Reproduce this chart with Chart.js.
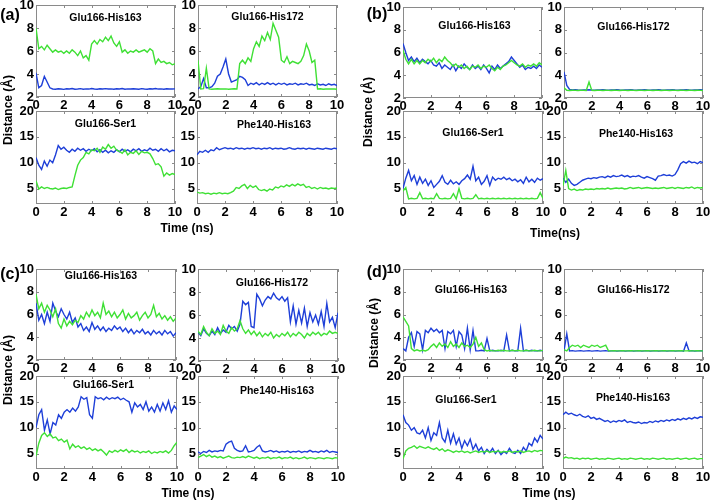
<!DOCTYPE html>
<html>
<head>
<meta charset="utf-8">
<script src="https://cdn.jsdelivr.net/npm/chart.js@4.4.1/dist/chart.umd.min.js"></script>
<style>
    body { margin: 0; background: #fff; }
    #fig { position: relative; width: 711px; height: 502px; overflow: hidden;
           font-family: 'Liberation Sans', Arial, sans-serif; font-weight: bold; color: #000; }
    #fig canvas { position: absolute; }
    .lbl { position: absolute; white-space: nowrap; transform: translate(-50%, -50%); }
    .ylab { transform: translate(-50%, -50%) rotate(-90deg); }
</style>
</head>
<body>
<div id="fig"></div>
<script>
// time axis (ns), sampled every 0.2 ns
const time = [0, 0.2, 0.4, 0.6, 0.8, 1, 1.2, 1.4, 1.6, 1.8, 2, 2.2, 2.4, 2.6, 2.8, 3, 3.2, 3.4, 3.6, 3.8,
    4, 4.2, 4.4, 4.6, 4.8, 5, 5.2, 5.4, 5.6, 5.8, 6, 6.2, 6.4, 6.6, 6.8, 7, 7.2, 7.4, 7.6, 7.8,
    8, 8.2, 8.4, 8.6, 8.8, 9, 9.2, 9.4, 9.6, 9.8, 10];
const xTicks = [0, 2, 4, 6, 8, 10];
const yTicksShort = [2, 4, 6, 8, 10];
const yTicksLong = [5, 10, 15, 20];

// panel (a)
const aHis163Green = [8.0, 6.2, 6.4, 6.1, 6.5, 6.2, 5.9, 6.1, 5.9, 6.0,
    5.8, 6.0, 5.8, 6.1, 5.9, 5.6, 6.0, 5.4, 5.6, 5.2,
    6.6, 6.9, 6.6, 7.0, 6.8, 7.2, 6.9, 7.3, 6.7, 6.4,
    6.8, 5.9, 6.1, 5.8, 6.0, 5.9, 6.1, 5.9, 6.0, 6.1,
    5.9, 6.2, 6.0, 4.9, 5.3, 5.0, 5.1, 4.9, 5.0, 4.8, 4.9];
const aHis163Blue = [4.1, 2.8, 3.0, 3.8, 3.3, 2.8, 2.7, 2.68, 2.72, 2.7,
    2.66, 2.72, 2.7, 2.74, 2.68, 2.7, 2.73, 2.67, 2.71, 2.69,
    2.74, 2.7, 2.68, 2.72, 2.7, 2.73, 2.69, 2.71, 2.67, 2.72,
    2.7, 2.74, 2.68, 2.71, 2.69, 2.72, 2.7, 2.67, 2.73, 2.7,
    2.68, 2.72, 2.7, 2.74, 2.69, 2.71, 2.68, 2.72, 2.7, 2.69, 2.71];
const aHis172Green = [5.2, 2.7, 2.72, 4.5, 2.7, 2.68, 2.7, 2.72, 2.69, 2.7,
    2.71, 2.68, 2.7, 2.72, 2.69, 4.9, 5.2, 4.9, 5.4, 5.1,
    6.2, 6.8, 6.4, 7.3, 6.9, 7.6, 7.0, 8.4, 7.8, 7.2,
    5.2, 5.0, 5.5, 4.9, 5.1, 5.0, 4.9, 5.1, 5.6, 6.6,
    6.0, 5.0, 5.2, 2.7, 2.72, 2.68, 2.7, 2.71, 2.69, 2.7, 2.68];
const aHis172Blue = [2.7, 2.9, 3.6, 2.8, 2.8, 2.9, 3.2, 3.8, 4.0, 4.6,
    5.3, 4.0, 3.3, 3.4, 3.5, 3.8, 3.7, 3.5, 3.0, 3.2,
    3.1, 3.25, 3.05, 3.2, 3.1, 3.25, 3.1, 3.2, 3.05, 3.2,
    3.1, 3.2, 3.05, 3.15, 3.1, 3.2, 3.05, 3.15, 3.1, 3.2,
    3.05, 3.1, 3.0, 3.15, 3.05, 3.1, 3.0, 3.15, 3.05, 3.1, 3.0];
const aSer1Green = [6.5, 4.9, 5.3, 5.0, 5.2, 5.0, 4.9, 5.1, 4.8, 5.0,
    5.1, 5.0, 5.2, 5.3, 7.5, 9.5, 10.5, 11.0, 12.0, 11.7,
    12.5, 12.3, 12.8, 12.0, 13.0, 12.6, 13.5, 12.8, 13.2, 12.4,
    12.2, 11.8, 12.5, 11.5, 12.0, 11.8, 12.3, 11.6, 12.2, 11.9,
    12.0, 11.7, 10.8, 9.6, 9.8, 9.2, 7.4, 8.0, 7.6, 7.9, 7.7];
const aSer1Blue = [11.0, 9.5, 8.7, 10.3, 9.3, 10.5, 10.0, 11.5, 13.3, 12.6,
    13.0, 12.4, 12.0, 12.6, 12.2, 12.8, 12.4, 12.7, 12.2, 12.6,
    12.3, 12.7, 12.1, 12.5, 12.0, 12.4, 11.9, 12.3, 12.0, 12.5,
    12.1, 12.6, 12.2, 12.5, 12.1, 12.6, 12.3, 12.7, 12.2, 12.5,
    12.3, 12.8, 12.4, 12.6, 12.2, 12.7, 12.3, 12.6, 12.1, 12.4, 12.3];
const aPhe140Green = [4.3, 4.1, 4.2, 4.0, 4.1, 3.9, 4.1, 4.0, 4.2, 4.0,
    4.1, 4.0, 4.2, 4.5, 5.2, 5.0, 5.5, 5.8, 5.0, 5.6,
    5.2, 5.5, 4.8, 4.6, 4.8, 4.5, 4.9, 4.7, 5.3, 5.1,
    5.5, 5.3, 5.7, 5.4, 5.8, 5.5, 5.9, 5.6, 5.8, 5.2,
    5.4, 5.0, 5.2, 4.9, 5.2, 5.0, 5.1, 4.9, 5.1, 5.0, 5.1];
const aPhe140Blue = [11.5, 12.2, 12.0, 12.4, 12.0, 12.5, 12.3, 12.9, 12.5, 12.7,
    12.9, 12.7, 12.8, 12.6, 12.9, 12.7, 12.8, 12.6, 12.8, 12.7,
    12.9, 12.7, 12.8, 12.6, 12.8, 12.7, 12.9, 12.6, 12.8, 12.7,
    12.8, 12.6, 12.7, 12.9, 12.7, 12.6, 12.8, 12.7, 12.8, 12.6,
    12.8, 12.7, 12.6, 12.8, 12.7, 12.6, 12.8, 12.7, 12.6, 12.8, 12.7];

// panel (b)
const bHis163Green = [6.2, 5.4, 5.0, 5.4, 5.0, 5.3, 5.0, 5.3, 5.1, 5.4,
    5.2, 5.5, 5.1, 5.4, 5.2, 5.6, 5.3, 5.1, 4.8, 5.0,
    4.7, 4.9, 4.6, 4.8, 4.5, 4.8, 4.7, 4.9, 4.6, 4.8,
    4.7, 4.9, 4.6, 4.4, 4.7, 4.5, 4.8, 4.9, 5.1, 5.3,
    5.1, 4.9, 4.8, 5.0, 4.7, 4.9, 4.8, 5.0, 4.8, 5.1, 4.9];
const bHis163Blue = [6.8, 6.0, 5.3, 5.6, 5.2, 5.5, 5.1, 5.4, 5.2, 5.0,
    5.3, 4.9, 4.8, 5.1, 4.6, 4.9, 4.7, 4.5, 4.9, 4.4,
    4.8, 4.6, 5.0, 4.7, 4.5, 4.9, 4.6, 4.8, 4.5, 4.9,
    4.6, 4.2, 4.8, 4.5, 4.9, 4.6, 4.8, 5.0, 5.2, 5.6,
    5.3, 5.0, 4.7, 4.9, 4.5, 4.7, 4.6, 4.8, 4.6, 4.9, 4.7];
const bHis172Green = [2.9, 2.68, 2.66, 2.68, 2.67, 2.66, 2.68, 2.67, 2.66, 3.4,
    2.67, 2.66, 2.68, 2.67, 2.66, 2.68, 2.67, 2.66, 2.68, 2.67,
    2.66, 2.68, 2.67, 2.66, 2.68, 2.67, 2.66, 2.68, 2.67, 2.66,
    2.68, 2.67, 2.66, 2.68, 2.67, 2.66, 2.68, 2.67, 2.66, 2.68,
    2.67, 2.66, 2.68, 2.67, 2.66, 2.68, 2.67, 2.66, 2.68, 2.67, 2.66];
const bHis172Blue = [4.3, 3.1, 2.75, 2.7, 2.72, 2.7, 2.69, 2.71, 2.7, 2.72,
    2.7, 2.69, 2.71, 2.7, 2.72, 2.7, 2.69, 2.71, 2.7, 2.72,
    2.7, 2.69, 2.71, 2.7, 2.72, 2.7, 2.69, 2.71, 2.7, 2.72,
    2.7, 2.69, 2.71, 2.7, 2.72, 2.7, 2.69, 2.71, 2.7, 2.72,
    2.7, 2.69, 2.71, 2.7, 2.72, 2.7, 2.69, 2.71, 2.7, 2.72, 2.7];
const bSer1Green = [4.5, 5.2, 3.0, 3.1, 3.0, 3.1, 4.2, 3.0, 3.1, 3.0,
    3.1, 3.0, 4.0, 3.1, 3.0, 3.1, 3.0, 3.1, 4.0, 3.0,
    5.0, 3.1, 3.0, 3.1, 3.0, 3.1, 3.8, 3.0, 3.1, 3.0,
    3.1, 3.0, 3.1, 3.0, 3.1, 3.0, 3.1, 3.0, 3.1, 3.0,
    3.1, 3.0, 3.1, 3.0, 3.1, 3.0, 3.1, 3.0, 3.1, 4.2, 3.1];
const bSer1Blue = [5.0, 7.0, 8.5, 6.5, 7.5, 5.8, 7.2, 6.0, 6.8, 5.6,
    6.5, 5.2, 5.8, 6.4, 7.5, 6.2, 5.8, 6.6, 5.9, 6.3,
    5.8, 6.5, 6.9, 7.6, 6.8, 9.3, 6.5, 7.2, 5.8, 6.4,
    7.5, 5.6, 7.2, 6.6, 7.0, 6.8, 7.2, 6.7, 7.0, 6.5,
    6.8, 6.3, 6.7, 6.0, 7.2, 6.3, 6.8, 6.2, 7.0, 6.6, 6.9];
const bPhe140Green = [5.5, 8.5, 5.0, 4.7, 4.9, 4.6, 4.8, 4.7, 4.9, 4.8,
    4.9, 4.8, 5.0, 4.9, 5.0, 4.9, 5.1, 4.9, 5.0, 5.1,
    5.0, 5.1, 4.9, 5.0, 5.2, 5.0, 5.1, 5.2, 5.0, 5.1,
    5.2, 5.1, 5.0, 5.1, 5.0, 5.1, 5.2, 5.0, 5.1, 5.2,
    5.0, 5.2, 5.1, 5.0, 5.2, 5.1, 5.3, 5.0, 5.2, 5.1, 5.2];
const bPhe140Blue = [7.0, 6.2, 6.8, 6.0, 5.6, 5.8, 6.2, 6.6, 6.8, 7.0,
    6.9, 7.1, 7.0, 7.2, 7.3, 7.1, 7.4, 7.2, 7.5, 7.3,
    7.4, 7.6, 7.3, 7.5, 7.2, 7.4, 7.3, 7.5, 7.2, 7.0,
    7.3, 7.1, 6.9, 6.6, 7.4, 7.5, 7.7, 7.5, 7.6, 7.4,
    7.7, 8.6, 9.8, 10.2, 9.9, 10.3, 10.0, 10.1, 9.8, 10.2, 10.0];

// panel (c)
const cHis163Green = [7.8, 6.5, 7.0, 6.2, 6.8, 6.4, 5.8, 6.5, 5.2, 4.8,
    5.6, 5.0, 5.4, 5.1, 5.5, 5.3, 5.9, 5.6, 6.2, 5.8,
    6.4, 5.9, 6.2, 5.7, 7.0, 6.0, 6.3, 5.8, 6.2, 5.7,
    6.0, 6.4, 5.6, 6.1, 5.7, 5.9, 6.2, 5.5, 5.9, 6.2,
    5.7, 6.0, 6.8, 5.8, 6.1, 5.6, 5.9, 5.5, 5.8, 5.4, 5.7];
const cHis163Blue = [7.0, 5.5, 6.0, 5.2, 6.2, 5.4, 7.0, 6.3, 5.8, 6.5,
    6.0, 5.6, 6.2, 5.3, 5.7, 4.9, 5.2, 4.6, 4.9, 4.5,
    5.3, 4.7, 5.0, 4.6, 4.9, 4.5, 4.8, 4.6, 5.0, 4.7,
    4.9, 4.5, 4.8, 4.4, 4.7, 4.3, 4.6, 4.4, 4.7, 4.3,
    4.5, 4.2, 4.6, 4.3, 4.5, 4.2, 4.6, 4.3, 4.5, 4.1, 4.4];
const cHis172Green = [4.6, 4.3, 5.0, 4.5, 4.2, 4.8, 4.4, 4.6, 4.3, 5.1,
    4.6, 4.4, 4.9, 4.6, 4.8, 5.5, 4.8, 4.4, 4.7, 4.3,
    4.6, 4.2, 4.5, 4.1, 4.4, 4.2, 4.5, 4.0, 4.3, 4.1,
    4.4, 4.2, 4.5, 4.1, 4.4, 4.2, 4.5, 4.3, 4.0, 4.4,
    4.2, 4.5, 4.3, 4.5, 4.2, 4.4, 4.3, 4.6, 4.4, 4.5, 4.4];
const cHis172Blue = [4.5, 4.2, 4.8, 4.4, 4.2, 4.6, 4.3, 4.9, 4.4, 4.7,
    4.5, 5.1, 4.8, 5.0, 4.6, 5.2, 7.2, 6.9, 7.1, 5.0,
    4.9, 7.8, 7.4, 6.8, 7.3, 7.6, 7.4, 7.9, 7.5, 7.3,
    7.6, 7.2, 7.5, 5.4, 6.8, 5.2, 6.4, 5.3, 6.6, 5.0,
    6.2, 5.4, 6.0, 5.2, 6.3, 5.0, 7.0, 5.4, 5.8, 4.9, 6.2];
const cSer1Green = [4.5, 7.0, 8.5, 9.0, 8.3, 8.8, 8.0, 8.2, 7.5, 7.8,
    7.2, 7.6, 5.9, 6.8, 6.2, 6.5, 6.0, 6.3, 5.8, 6.1,
    5.6, 5.9, 5.5, 5.8, 5.3, 4.7, 5.5, 5.2, 5.6, 5.3,
    5.7, 5.4, 5.8, 5.2, 5.6, 5.3, 5.5, 5.1, 5.4, 5.2,
    5.5, 5.0, 5.3, 5.1, 5.4, 5.2, 5.5, 5.1, 5.6, 6.5, 7.2];
const cSer1Blue = [10.0, 12.5, 13.5, 9.5, 11.5, 8.8, 11.0, 10.5, 12.5, 11.8,
    13.0, 13.5, 13.0, 13.8, 13.2, 14.0, 16.0, 15.5, 15.8, 12.5,
    11.8, 16.0, 15.6, 15.8, 15.4, 15.9, 15.5, 15.8, 15.6, 15.9,
    15.4, 15.7, 15.3, 15.0, 13.0, 14.8, 14.0, 14.5, 13.5, 15.0,
    13.2, 14.0, 13.0, 14.5, 13.2, 14.8, 13.5, 15.2, 13.0, 14.2, 13.5];
const cPhe140Green = [4.2, 4.5, 4.8, 4.4, 4.7, 4.3, 4.5, 4.2, 4.4, 4.1,
    4.3, 4.5, 4.2, 4.1, 4.3, 4.2, 4.4, 4.2, 4.5, 4.3,
    4.1, 4.3, 4.0, 4.2, 4.1, 4.3, 4.0, 4.2, 4.1, 4.3,
    4.0, 4.2, 4.1, 4.3, 4.0, 4.2, 4.0, 4.1, 4.3, 4.0,
    4.2, 4.1, 4.0, 4.2, 4.1, 4.0, 4.2, 4.1, 4.0, 4.2, 4.1];
const cPhe140Blue = [5.3, 5.0, 5.4, 5.2, 5.6, 5.3, 5.5, 5.4, 5.6, 5.5,
    6.8, 7.2, 7.4, 6.0, 5.6, 5.4, 5.5, 6.5, 5.3, 5.4,
    5.6, 6.2, 6.6, 5.5, 5.3, 5.4, 5.6, 5.3, 5.5, 5.2,
    5.4, 5.3, 5.5, 5.2, 5.4, 5.3, 5.5, 5.2, 5.4, 5.3,
    5.6, 5.3, 5.4, 5.2, 5.5, 5.3, 5.6, 5.2, 5.4, 5.3, 5.2];

// panel (d)
const dHis163Green = [5.8, 5.4, 5.0, 3.0, 2.8, 2.9, 2.8, 2.85, 2.8, 2.9,
    3.2, 3.4, 3.1, 3.5, 3.2, 3.4, 3.1, 3.6, 3.2, 3.4,
    3.1, 3.5, 3.2, 3.3, 3.1, 3.4, 4.0, 3.2, 3.5, 2.9,
    2.8, 2.85, 2.8, 2.8, 2.85, 2.8, 2.85, 2.8, 2.8, 2.85,
    2.8, 2.85, 2.8, 2.8, 2.85, 2.8, 2.8, 2.85, 2.8, 2.8, 2.85];
const dHis163Blue = [3.0, 2.8, 4.0, 4.4, 3.2, 4.5, 4.3, 2.9, 4.6, 4.4,
    4.8, 4.5, 4.7, 4.4, 4.6, 3.0, 4.5, 4.3, 4.6, 3.2,
    4.5, 4.2, 3.0, 4.8, 2.9, 4.6, 2.8, 2.8, 2.85, 2.8,
    3.9, 2.8, 2.85, 2.8, 2.8, 2.85, 2.8, 4.2, 2.8, 2.85,
    2.8, 2.8, 4.8, 2.8, 2.85, 2.8, 2.85, 2.8, 2.8, 2.85, 2.8];
const dHis172Green = [2.9, 2.8, 3.1, 3.3, 3.2, 3.3, 3.1, 3.3, 3.2, 3.1,
    3.3, 3.2, 3.3, 3.1, 3.2, 3.3, 2.8, 2.8, 2.82, 2.8,
    2.8, 2.82, 2.8, 2.8, 2.82, 2.8, 2.8, 2.82, 2.8, 2.8,
    2.82, 2.8, 2.8, 2.82, 2.8, 2.8, 2.82, 2.8, 2.8, 2.82,
    2.8, 2.8, 2.82, 2.8, 2.8, 2.82, 2.8, 2.8, 2.82, 2.8, 2.8];
const dHis172Blue = [2.8, 4.3, 2.8, 2.82, 2.78, 2.8, 2.82, 2.78, 2.8, 2.82,
    2.78, 2.8, 2.82, 2.78, 2.8, 2.82, 2.78, 2.8, 2.82, 2.78,
    2.8, 2.82, 2.78, 2.8, 2.82, 2.78, 2.8, 2.82, 2.78, 2.8,
    2.82, 2.78, 2.8, 2.82, 2.78, 2.8, 2.82, 2.78, 2.8, 2.82,
    2.78, 2.8, 2.82, 2.78, 3.5, 2.8, 2.82, 2.78, 2.8, 2.82, 2.8];
const dSer1Green = [4.0, 5.5, 6.0, 6.2, 6.5, 6.0, 6.4, 6.2, 6.0, 6.3,
    6.0, 5.8, 6.1, 5.6, 5.9, 5.4, 5.7, 5.5, 5.2, 5.5,
    5.3, 5.5, 5.2, 5.4, 5.1, 5.3, 5.5, 5.2, 5.4, 5.3,
    5.5, 5.2, 5.4, 5.3, 5.5, 5.2, 5.4, 5.3, 5.5, 5.2,
    5.4, 5.3, 5.5, 5.2, 5.4, 5.5, 5.3, 5.6, 5.4, 5.6, 5.5];
const dSer1Blue = [12.5, 11.0, 10.5, 9.5, 10.0, 9.0, 8.8, 9.5, 8.0, 10.0,
    7.5, 9.0, 8.5, 11.0, 8.0, 7.2, 9.5, 7.0, 8.8, 6.8,
    8.0, 6.0, 7.5, 6.5, 7.8, 5.8, 6.8, 5.5, 6.2, 5.0,
    5.8, 5.2, 6.0, 5.0, 5.6, 4.8, 5.4, 5.0, 6.0, 5.2,
    5.0, 5.6, 5.0, 6.2, 5.5, 7.0, 6.5, 8.0, 7.2, 8.5, 7.8];
const dPhe140Green = [4.0, 4.3, 4.1, 4.2, 4.0, 4.1, 3.9, 4.1, 4.0, 4.1,
    3.9, 4.0, 4.1, 3.9, 4.0, 3.9, 4.1, 4.0, 3.9, 4.0,
    4.1, 3.9, 4.0, 3.9, 4.1, 4.0, 3.9, 4.0, 4.1, 3.9,
    4.0, 3.9, 4.1, 4.0, 3.9, 4.0, 4.1, 3.9, 4.0, 3.9,
    4.0, 4.1, 3.9, 4.0, 4.1, 3.9, 4.0, 4.1, 3.9, 4.0, 4.0];
const dPhe140Blue = [12.5, 13.0, 12.6, 12.8, 12.5, 12.3, 12.6, 12.2, 12.0, 12.3,
    11.8, 12.0, 11.6, 11.8, 11.5, 11.2, 11.4, 11.0, 11.3, 11.1,
    11.4, 11.2, 11.5, 11.0, 11.2, 11.0, 10.9, 11.1, 10.8, 11.0,
    10.9, 11.2, 11.0, 11.3, 11.1, 11.4, 11.2, 11.5, 11.3, 11.6,
    11.4, 11.7, 11.5, 11.8, 11.6, 11.9, 11.7, 12.0, 11.8, 12.1, 12.0];

const GREEN = '#3fe035';
const BLUE = '#1e3fd8';
const PAD_L = 36, PAD_T = 10, PAD_R = 14, PAD_B = 22;

// subplot layout: plot rectangle in page pixels, title offset
const subplots = [
    { title: 'Glu166-His163', l: 36, t: 5, r: 175, b: 97, long: false, dx: 0, dy: 13, green: aHis163Green, blue: aHis163Blue },
    { title: 'Glu166-His172', l: 198, t: 5, r: 337, b: 97, long: false, dx: 0, dy: 12, green: aHis172Green, blue: aHis172Blue },
    { title: 'Glu166-Ser1', l: 36, t: 111, r: 175, b: 204, long: true, dx: 0, dy: 13, green: aSer1Green, blue: aSer1Blue },
    { title: 'Phe140-His163', l: 197, t: 111, r: 337, b: 204, long: true, dx: 7, dy: 14, green: aPhe140Green, blue: aPhe140Blue },

    { title: 'Glu166-His163', l: 403, t: 7, r: 542, b: 98, long: false, dx: 2, dy: 19, green: bHis163Green, blue: bHis163Blue },
    { title: 'Glu166-His172', l: 564, t: 7, r: 703, b: 98, long: false, dx: 0, dy: 20, green: bHis172Green, blue: bHis172Blue },
    { title: 'Glu166-Ser1', l: 403, t: 111, r: 543, b: 204, long: true, dx: 0, dy: 22, green: bSer1Green, blue: bSer1Blue },
    { title: 'Phe140-His163', l: 563, t: 111, r: 703, b: 204, long: true, dx: 3, dy: 23, green: bPhe140Green, blue: bPhe140Blue },

    { title: 'Glu166-His163', l: 36, t: 269, r: 176, b: 360, long: false, dx: -5, dy: 7, green: cHis163Green, blue: cHis163Blue },
    { title: 'Glu166-His172', l: 198, t: 269, r: 338, b: 361, long: false, dx: 4, dy: 14, green: cHis172Green, blue: cHis172Blue },
    { title: 'Glu166-Ser1', l: 36, t: 376, r: 177, b: 469, long: true, dx: -3, dy: 9, green: cSer1Green, blue: cSer1Blue },
    { title: 'Phe140-His163', l: 198, t: 376, r: 338, b: 469, long: true, dx: 9, dy: 15, green: cPhe140Green, blue: cPhe140Blue },

    { title: 'Glu166-His163', l: 403, t: 269, r: 543, b: 360, long: false, dx: -2, dy: 21, green: dHis163Green, blue: dHis163Blue },
    { title: 'Glu166-His172', l: 564, t: 269, r: 703, b: 360, long: false, dx: 0, dy: 21, green: dHis172Green, blue: dHis172Blue },
    { title: 'Glu166-Ser1', l: 403, t: 376, r: 543, b: 469, long: true, dx: -7, dy: 24, green: dSer1Green, blue: dSer1Blue },
    { title: 'Phe140-His163', l: 563, t: 376, r: 703, b: 469, long: true, dx: 0, dy: 22, green: dPhe140Green, blue: dPhe140Blue },
];

const texts = [
    { text: '(a)', x: 10, y: 15, size: 16 },
    { text: '(b)', x: 377, y: 14, size: 16 },
    { text: '(c)', x: 10, y: 274, size: 16 },
    { text: '(d)', x: 377, y: 272, size: 16 },
    { text: 'Distance (Å)', x: 8, y: 110, size: 12, rot: true },
    { text: 'Distance (Å)', x: 368, y: 112, size: 12, rot: true },
    { text: 'Distance (Å)', x: 8, y: 370, size: 12, rot: true },
    { text: 'Distance (Å)', x: 374, y: 333, size: 12, rot: true },
    { text: 'Time (ns)', x: 187, y: 228, size: 12 },
    { text: 'Time(ns)', x: 555, y: 233, size: 12 },
    { text: 'Time (ns)', x: 188, y: 493, size: 12 },
    { text: 'Time (ns)', x: 549, y: 493, size: 12 },
];

const framePlugin = {
    id: 'frame',
    beforeDatasetsDraw(chart, args, opts) {
        const { ctx, chartArea: a, scales } = chart;
        ctx.save();
        ctx.strokeStyle = '#8a8a8a';
        ctx.lineWidth = 1;
        ctx.strokeRect(a.left + 0.5, a.top + 0.5, a.width - 1, a.height - 1);
        ctx.beginPath();
        scales.x.ticks.forEach((tk) => {
            const px = Math.round(scales.x.getPixelForValue(tk.value)) + 0.5;
            ctx.moveTo(px, a.bottom); ctx.lineTo(px, a.bottom - 3);
            ctx.moveTo(px, a.top); ctx.lineTo(px, a.top + 3);
        });
        scales.y.ticks.forEach((tk) => {
            const py = Math.round(scales.y.getPixelForValue(tk.value)) + 0.5;
            ctx.moveTo(a.left, py); ctx.lineTo(a.left + 3, py);
            ctx.moveTo(a.right, py); ctx.lineTo(a.right - 3, py);
        });
        ctx.stroke();
        ctx.restore();
    },
    afterDatasetsDraw(chart, args, opts) {
        const { ctx, chartArea: a } = chart;
        ctx.save();
        ctx.fillStyle = '#000';
        ctx.font = "bold 10.5px 'Liberation Sans', Arial, sans-serif";
        ctx.textAlign = 'center';
        ctx.textBaseline = 'middle';
        ctx.fillText(opts.title, (a.left + a.right) / 2 + opts.dx, a.top + opts.dy);
        ctx.restore();
    },
};

const fig = document.getElementById('fig');

function toPoints(values) {
    return values.map((v, i) => ({ x: time[i], y: v }));
}

function lineSet(values, color) {
    return {
        data: toPoints(values),
        borderColor: color,
        borderWidth: 1.4,
        pointRadius: 0,
        tension: 0,
    };
}

function makeChart(sp) {
    const canvas = document.createElement('canvas');
    canvas.width = (sp.r - sp.l) + PAD_L + PAD_R;
    canvas.height = (sp.b - sp.t) + PAD_T + PAD_B;
    canvas.style.left = (sp.l - PAD_L) + 'px';
    canvas.style.top = (sp.t - PAD_T) + 'px';
    fig.appendChild(canvas);

    const tickFont = { family: "'Liberation Sans', Arial, sans-serif", size: 13, weight: 'bold' };
    const yTicks = sp.long ? yTicksLong : yTicksShort;

    new Chart(canvas.getContext('2d'), {
        type: 'line',
        data: { datasets: [lineSet(sp.green, GREEN), lineSet(sp.blue, BLUE)] },
        options: {
            responsive: false,
            animation: false,
            events: [],
            layout: { padding: { left: 0, top: PAD_T, right: PAD_R, bottom: 0 } },
            plugins: {
                legend: { display: false },
                tooltip: { enabled: false },
                frame: { title: sp.title, dx: sp.dx, dy: sp.dy },
            },
            scales: {
                x: {
                    type: 'linear',
                    min: 0,
                    max: 10,
                    afterBuildTicks: (s) => { s.ticks = xTicks.map((v) => ({ value: v })); },
                    afterFit: (s) => { s.height = PAD_B; },
                    grid: { display: false, drawTicks: false },
                    border: { display: false },
                    ticks: { padding: 1, maxRotation: 0, autoSkip: false, color: '#000', font: tickFont },
                },
                y: {
                    type: 'linear',
                    min: 2,
                    max: sp.long ? 20 : 10,
                    afterBuildTicks: (s) => { s.ticks = yTicks.map((v) => ({ value: v })); },
                    afterFit: (s) => { s.width = PAD_L; },
                    grid: { display: false, drawTicks: false },
                    border: { display: false },
                    ticks: { padding: 2, autoSkip: false, color: '#000', font: tickFont },
                },
            },
        },
        plugins: [framePlugin],
    });
}

subplots.forEach(makeChart);

texts.forEach((t) => {
    const el = document.createElement('div');
    el.className = 'lbl' + (t.rot ? ' ylab' : '');
    el.textContent = t.text;
    el.style.left = t.x + 'px';
    el.style.top = t.y + 'px';
    el.style.fontSize = t.size + 'px';
    fig.appendChild(el);
});
</script>
</body>
</html>
